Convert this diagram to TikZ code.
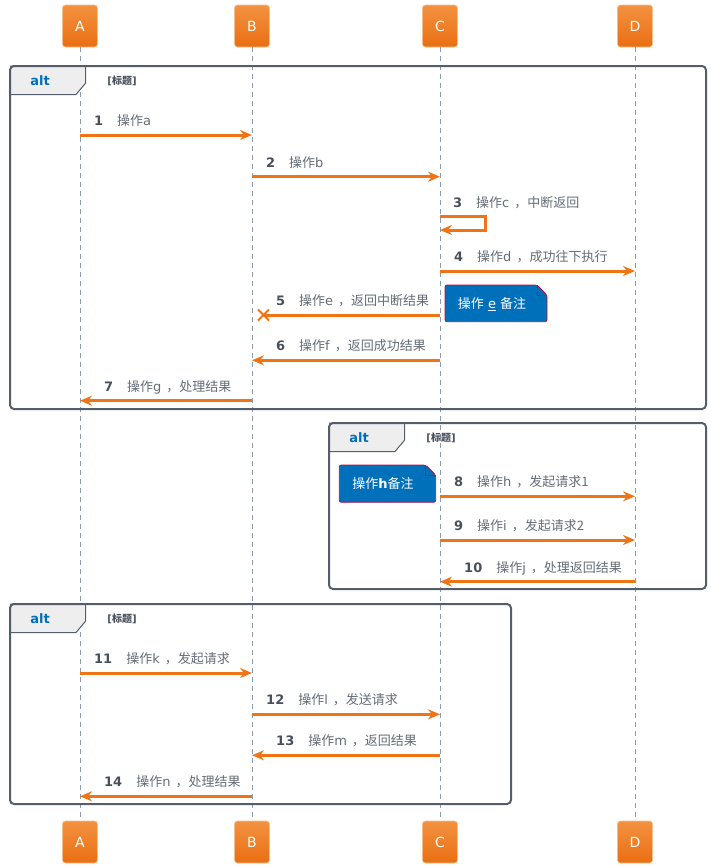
\documentclass[tikz,border=0pt]{standalone}
\usepackage{fontspec}
\setmainfont{DejaVu Sans}
\newfontfamily\cjk{Noto Sans CJK SC}
\usetikzlibrary{arrows.meta}

\definecolor{arrowc}{RGB}{238,116,22}
\definecolor{actortop}{RGB}{243,146,64}
\definecolor{actorbot}{RGB}{234,110,18}
\definecolor{actorbd}{RGB}{247,190,140}
\definecolor{lifec}{RGB}{140,156,176}
\definecolor{framec}{RGB}{84,94,106}
\definecolor{tabc}{RGB}{238,238,238}
\definecolor{altc}{RGB}{0,110,185}
\definecolor{numc}{RGB}{72,80,92}
\definecolor{txtc}{RGB}{100,108,118}
\definecolor{notec}{RGB}{0,112,186}
\definecolor{notebd}{RGB}{176,20,70}

\newcommand\op[2]{\edef\optmp{#2}{\cjk 操作}#1\ifx\optmp\empty\else{\cjk\hspace{5pt}，\hspace{0pt}\optmp}\fi}

\begin{document}
\begin{tikzpicture}[x=1pt, y=-1pt,
	actor/.style = {draw=actorbd, line width=0.6pt, rounded corners=3pt, top color=actortop, bottom color=actorbot, text=white, minimum width=35pt, minimum height=42pt, font=\fontsize{14}{16}\selectfont},
	life/.style = {draw=lifec, line width=0.8pt, dash pattern=on 5pt off 4pt},
	msg/.style = {draw=arrowc, line width=3pt, -{Stealth[length=12pt, width=10pt, inset=4pt]}},
	lbl/.style = {anchor=base west, inner sep=0pt, text=txtc, font=\fontsize{13}{15}\selectfont},
	note/.style = {fill=notec, draw=notebd, line width=0.8pt, rounded corners=2pt},
	notetxt/.style = {text=white, inner sep=0pt, font=\fontsize{13}{15}\selectfont},
	frame/.style = {draw=framec, line width=2pt, rounded corners=4pt},
	tab/.style = {fill=tabc, draw=framec, line width=1pt},
	alttxt/.style = {text=altc, font=\bfseries\fontsize{13}{15}\selectfont},
	cond/.style = {text=numc, font=\bfseries\fontsize{10}{12}\selectfont}]

	\useasboundingbox (0,0) rectangle (710,868);

	\foreach \n/\x in {A/80,B/252,C/440,D/635}
	{
		\node[actor] (top\n) at (\x,26) {\n};
		\node[actor] (bot\n) at (\x,842) {\n};
		\draw[life] (top\n) -- (bot\n);
	}

	\foreach \k/\l/\tp/\r/\bt in {1/10/66/706/409, 2/329/423/706/589, 3/10/604/511/804}
	{
		\draw[tab] (\l,\tp) -- (\l+75.7,\tp) -- (\l+75.7,\tp+17) -- (\l+66,\tp+28.5) -- (\l,\tp+28.5);
		\draw[frame] (\l,\tp) rectangle (\r,\bt);
		\node[alttxt] (alt\k) at (\l+30,\tp+15) {alt};
		\node[cond] (cond\k) at (\l+112,\tp+15) {[{\cjk 标题}]};
	}

	\foreach \i/\p/\q/\y/\ch/\s in {1/A/B/135/a/{}, 2/B/C/176.7/b/{}, 4/C/D/271/d/{成功往下执行}, 8/C/D/496.3/h/{发起请求1}, 9/C/D/540/i/{发起请求2}, 11/A/B/673/k/{发起请求}, 12/B/C/714.3/l/{发送请求}}
	{
		\coordinate (s\i) at (top\p |- 0,\y);
		\coordinate (e\i) at (top\q |- 0,\y);
		\draw[msg] (s\i) -- (e\i);
		\node[lbl] (l\i) at ([shift={(14,-9.5)}]s\i) {{\color{numc}\bfseries\i}\hspace{14pt}\op{\ch}{\s}};
	}

	\foreach \i/\p/\q/\y/\ch/\s in {6/C/B/360.3/f/{返回成功结果}, 7/B/A/400.7/g/{处理结果}, 10/D/C/581.7/j/{处理返回结果}, 13/C/B/755.3/m/{返回结果}, 14/B/A/796.3/n/{处理结果}}
	{
		\coordinate (s\i) at (top\p |- 0,\y);
		\coordinate (e\i) at (top\q |- 0,\y);
		\draw[msg] (s\i) -- (e\i);
		\node[lbl] (l\i) at ([shift={(24,-9.5)}]e\i) {{\color{numc}\bfseries\i}\hspace{14pt}\op{\ch}{\s}};
	}

	\coordinate (s3) at (topC |- 0,216.7);
	\coordinate (e3) at (topC |- 0,230);
	\draw[msg] (s3) -- ++(45,0) -- ++(0,13.3) -- (e3);
	\node[lbl] (l3) at ([shift={(13,-9.5)}]s3) {{\color{numc}\bfseries 3}\hspace{14pt}\op{c}{中断返回}};

	\coordinate (s5) at (topC |- 0,315);
	\coordinate (x5) at (263.5,315);
	\draw[draw=arrowc, line width=3pt] (s5) -- (x5);
	\draw[draw=arrowc, line width=2pt] ([shift={(-5.5,-5.5)}]x5) -- ([shift={(5.5,5.5)}]x5) ([shift={(-5.5,5.5)}]x5) -- ([shift={(5.5,-5.5)}]x5);
	\node[lbl] (l5) at ([shift={(24,-9.5)}]topB |- 0,315) {{\color{numc}\bfseries 5}\hspace{14pt}\op{e}{返回中断结果}};

	\draw[note] (445,285) -- (537,285) -- (547,295) -- (547,321.7) -- (445,321.7) -- cycle;
	\draw[draw=notebd, line width=0.8pt] (537,285) -- (537,295) -- (547,295);
	\node[notetxt] (note5) at (492,304) {{\cjk 操作} \underline{e} {\cjk 备注}};

	\draw[note] (339.3,465) -- (425.7,465) -- (435.7,475) -- (435.7,502.3) -- (339.3,502.3) -- cycle;
	\draw[draw=notebd, line width=0.8pt] (425.7,465) -- (425.7,475) -- (435.7,475);
	\node[notetxt] (note8) at (383,483.5) {{\cjk 操作}\textbf{h}{\cjk 备注}};
\end{tikzpicture}
\end{document}
